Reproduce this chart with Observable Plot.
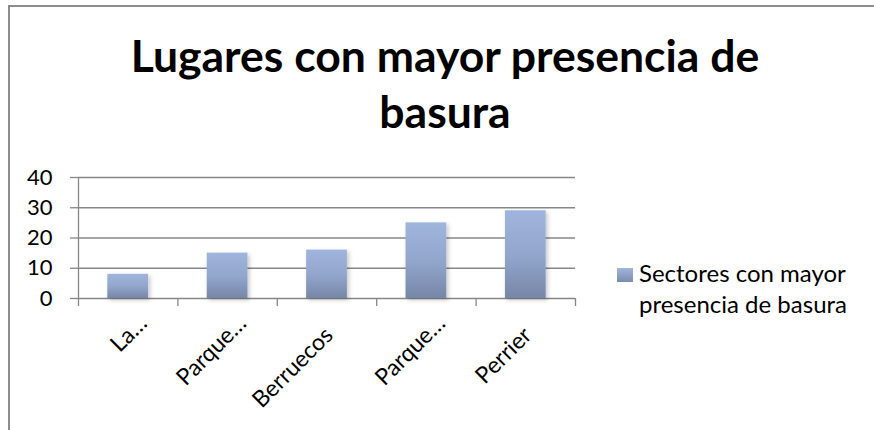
<!DOCTYPE html>
<html>
<head>
<meta charset="utf-8">
<script src="https://cdn.jsdelivr.net/npm/d3@7"></script>
<script src="https://cdn.jsdelivr.net/npm/@observablehq/plot@0.6"></script>
<style>
  html, body { margin: 0; padding: 0; background: #fff; overflow: hidden; }
  #chart { position: relative; width: 874px; height: 430px; overflow: hidden; font-family: Lato, "DejaVu Sans", sans-serif; color: #000; }
  #border { position: absolute; left: 8px; top: 5px; width: 890px; height: 450px; border: 2px solid #8c8c8c; box-sizing: border-box; }
  #title { position: absolute; left: 95px; width: 700px; top: 27px; text-align: center; font-weight: 700; font-size: 44.5px; line-height: 56px; }
  #legend { position: absolute; left: 617px; top: 257px; }
  #legend .sw { position: absolute; left: 0; top: 11px; width: 16px; height: 14px; background: linear-gradient(#a1b6dc, #7b8cae); }
  #legend .tx { position: absolute; left: 22px; top: 0; width: 250px; font-size: 24px; line-height: 31px; }
  #plot { position: absolute; left: 0; top: 0; }
</style>
</head>
<body>
<div id="chart">
  <div id="border"></div>
  <div id="plot"></div>
  <div id="title"></div>
  <div id="legend"><div class="sw"></div><div class="tx"></div></div>
</div>
<script>
const title = "Lugares con mayor presencia de basura";
const seriesName = "Sectores con mayor presencia de basura";
const categories = ["La…", "Parque…", "Berruecos", "Parque…", "Perrier"];
const values = [8, 15, 16, 25, 29];
const yTicks = [0, 10, 20, 30, 40];

document.getElementById("title").textContent = title;
document.querySelector("#legend .tx").textContent = seriesName;

const data = categories.map((c, i) => ({i, label: c, value: values[i]}));
const barFrac = 0.41;
const gridColor = "#878787";
const truncated = d => d.label.endsWith("…");

const defs = () => {
  const g = document.createElementNS("http://www.w3.org/2000/svg", "g");
  g.innerHTML = `<defs>
    <linearGradient id="barGrad" x1="0" y1="0" x2="0" y2="1">
      <stop offset="0" stop-color="#a0b5dd"/>
      <stop offset="0.5" stop-color="#93a7cd"/>
      <stop offset="1" stop-color="#7686a8"/>
    </linearGradient>
    <filter id="barShadow" x="-30%" y="-30%" width="160%" height="160%">
      <feDropShadow dx="2" dy="2" stdDeviation="2" flood-color="#000" flood-opacity="0.22"/>
    </filter>
  </defs>`;
  return g;
};

const svg = Plot.plot({
  width: 874,
  height: 430,
  marginLeft: 78,
  marginRight: 299,
  marginTop: 177,
  marginBottom: 132,
  x: {domain: [0, categories.length], axis: null, label: null},
  y: {domain: [0, 40], axis: null, label: null},
  style: {background: "transparent", fontFamily: "Lato, sans-serif", color: "#000", overflow: "visible"},
  marks: [
    defs,
    Plot.gridY(yTicks, {stroke: gridColor, strokeOpacity: 1, strokeWidth: 1.3}),
    Plot.axisY(yTicks, {tickSize: 8, tickPadding: 18, stroke: gridColor, strokeWidth: 1.3, fill: "#000", fontSize: 22, label: null, tickFormat: d => String(d)}),
    Plot.axisX(d3.range(categories.length + 1), {anchor: "bottom", tickSize: 8, stroke: gridColor, strokeWidth: 1.3, label: null, tickFormat: () => ""}),
    Plot.ruleX([0], {stroke: gridColor, strokeWidth: 1.3}),
    Plot.rectY(data, {x1: d => d.i + (1 - barFrac) / 2, x2: d => d.i + (1 + barFrac) / 2, y1: 0, y2: "value", fill: "url(#barGrad)"}),
    Plot.text(data.filter(truncated), {x: d => d.i + 0.5, y: 0, text: "label", rotate: -45, textAnchor: "end", dx: 15, dy: 21, fontSize: 23, fill: "#000"}),
    Plot.text(data.filter(d => !truncated(d)), {x: d => d.i + 0.5, y: 0, text: "label", rotate: -45, textAnchor: "end", dx: 2, dy: 33, fontSize: 23, fill: "#000"})
  ]
});
const rg = svg.querySelector('g[aria-label="rect"]');
if (rg) rg.setAttribute("filter", "url(#barShadow)");
document.getElementById("plot").appendChild(svg);
</script>
</body>
</html>
